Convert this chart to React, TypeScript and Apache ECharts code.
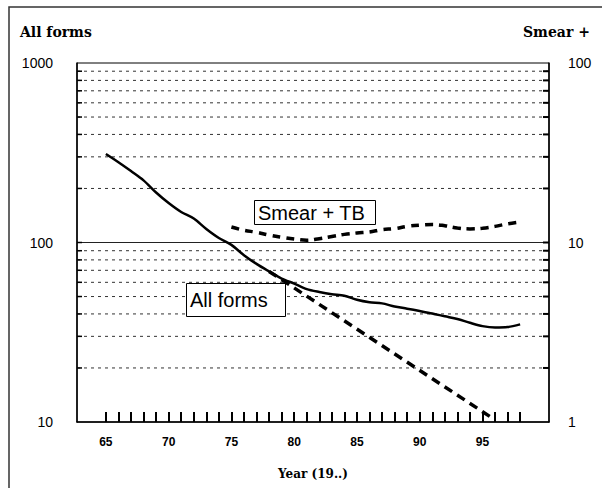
import React, { useEffect, useRef } from "react";
import * as echarts from "echarts";

// ---- data ----
const years = [65, 66, 67, 68, 69, 70, 71, 72, 73, 74, 75, 76, 77, 78, 79, 80, 81, 82, 83, 84, 85, 86, 87, 88, 89, 90, 91, 92, 93, 94, 95, 96, 97, 98];
const allForms = [311, 280, 250, 222, 190, 166, 148, 136, 119, 106, 97, 85, 76, 69, 63, 59, 55, 53, 51.5, 50.5, 48, 46.5, 45.8, 44, 42.8, 41.5, 40.2, 38.8, 37.5, 35.7, 34.2, 33.6, 33.8, 35];
const projectionYears = [78, 95.8];
const projection = [69, 10.5];
const smearYears = [75, 76, 77, 78, 79, 80, 81, 82, 83, 84, 85, 86, 87, 88, 89, 90, 91, 92, 93, 94, 95, 96, 97, 98];
const smearTB = [12.2, 11.7, 11.4, 11.0, 10.7, 10.45, 10.3, 10.5, 10.8, 11.1, 11.3, 11.45, 11.8, 11.95, 12.3, 12.5, 12.6, 12.4, 12.05, 11.9, 12.0, 12.3, 12.7, 13.0];
const gridValues = [20, 30, 40, 50, 60, 70, 80, 90, 100, 200, 300, 400, 500, 600, 700, 800, 900];
const xLabelValues = [65, 70, 75, 80, 85, 90, 95];
const xTickValues = [65, 66, 67, 68, 69, 70, 71, 72, 73, 74, 75, 76, 77, 78, 79, 80, 81, 82, 83, 84, 85, 86, 87, 88, 89, 90, 91, 92, 93, 94, 95, 96, 97, 98];
const xMin = 62.7;
const xMax = 100.3;

const SANS = '"Liberation Sans", Arial, sans-serif';
const SERIF = '"DejaVu Serif", serif';

export default function App() {
  const ref = useRef<HTMLDivElement>(null);
  useEffect(() => {
    if (!ref.current) return;
    const chart = echarts.init(ref.current, undefined, { renderer: "svg" });
    const option: any = {
      animation: false,
      backgroundColor: "#fff",
      grid: { left: 77, right: 53, top: 63, bottom: 66, show: true, borderColor: "#000", borderWidth: 1 },
      xAxis: {
        type: "value",
        min: xMin,
        max: xMax,
        axisLine: { show: true, lineStyle: { color: "#000", width: 1.5 } },
        axisTick: { show: true, inside: true, length: 10, customValues: xTickValues, lineStyle: { color: "#000", width: 2 } },
        axisLabel: { customValues: xLabelValues, margin: 14, color: "#000", fontFamily: SANS, fontWeight: "bold", fontSize: 12 },
        splitLine: { show: false },
      },
      yAxis: [
        {
          type: "log",
          logBase: 10,
          min: 10,
          max: 1000,
          position: "left",
          axisLine: { show: true, lineStyle: { color: "#000", width: 1.5 } },
          axisTick: { show: false },
          axisLabel: { margin: 24, color: "#000", fontFamily: SANS, fontSize: 14, formatter: (v: number) => String(v) },
          splitLine: { show: false },
        },
        {
          type: "log",
          logBase: 10,
          min: 1,
          max: 100,
          position: "right",
          axisLine: { show: true, lineStyle: { color: "#000", width: 1.5 } },
          axisTick: { show: false },
          axisLabel: { margin: 19, color: "#000", fontFamily: SANS, fontSize: 14, formatter: (v: number) => String(v) },
          splitLine: { show: false },
        },
      ],
      series: [
        {
          type: "custom",
          z: 1,
          silent: true,
          yAxisIndex: 0,
          data: gridValues.map((v) => [xMin, v]),
          renderItem: (params: any, api: any) => {
            const v = api.value(1);
            const cs = params.coordSys;
            const y = api.coord([api.value(0), v])[1];
            const x0 = cs.x;
            const x1 = cs.x + cs.width;
            const solid = v === 100;
            return {
              type: "group",
              children: [
                {
                  type: "line",
                  shape: { x1: x0, y1: y, x2: x1, y2: y },
                  style: solid
                    ? { stroke: "#222", lineWidth: 1 }
                    : { stroke: "#333", lineWidth: 1, lineDash: [3, 4] },
                },
                { type: "line", shape: { x1: x0, y1: y, x2: x0 + 5, y2: y }, style: { stroke: "#000", lineWidth: 1.5 } },
                { type: "line", shape: { x1: x1 - 6, y1: y, x2: x1, y2: y }, style: { stroke: "#000", lineWidth: 2 } },
              ],
            };
          },
        },
        {
          name: "All forms",
          type: "line",
          yAxisIndex: 0,
          z: 4,
          smooth: 0.3,
          symbol: "none",
          data: years.map((y, i) => [y, allForms[i]]),
          lineStyle: { color: "#000", width: 2.5 },
        },
        {
          name: "Projection",
          type: "line",
          yAxisIndex: 0,
          z: 4,
          symbol: "none",
          data: projectionYears.map((y, i) => [y, projection[i]]),
          lineStyle: { color: "#000", width: 3.5, type: [9, 6] },
        },
        {
          name: "Smear + TB",
          type: "line",
          yAxisIndex: 1,
          z: 4,
          smooth: 0.4,
          symbol: "none",
          data: smearYears.map((y, i) => [y, smearTB[i]]),
          lineStyle: { color: "#000", width: 3.5, type: [8, 6] },
        },
      ],
      graphic: [
        { type: "rect", z: 0, silent: true, shape: { x: 9, y: 7, width: 640, height: 520 }, style: { fill: "none", stroke: "#333", lineWidth: 1.5 } },
        { type: "text", x: 20, y: 32, style: { text: "All forms", font: `bold 14px ${SERIF}`, fill: "#000", textVerticalAlign: "middle" } },
        { type: "text", x: 523, y: 32, style: { text: "Smear +", font: `bold 14px ${SERIF}`, fill: "#000", textVerticalAlign: "middle" } },
        { type: "text", x: 313, y: 474, style: { text: "Year (19..)", font: `bold 12px ${SERIF}`, fill: "#000", textAlign: "center", textVerticalAlign: "middle" } },
        { type: "rect", z: 2, shape: { x: 254.5, y: 200.5, width: 121, height: 24 }, style: { fill: "#fff", stroke: "#000", lineWidth: 1 } },
        { type: "text", z: 3, x: 258, y: 213, style: { text: "Smear + TB", font: `20px ${SANS}`, fill: "#000", textVerticalAlign: "middle" } },
        { type: "rect", z: 2, shape: { x: 186.5, y: 283.5, width: 99, height: 33 }, style: { fill: "#fff", stroke: "#000", lineWidth: 1 } },
        { type: "text", z: 3, x: 190, y: 300, style: { text: "All forms", font: `20px ${SANS}`, fill: "#000", textVerticalAlign: "middle" } },
      ],
    };
    chart.setOption(option);
    return () => chart.dispose();
  }, []);
  return <div ref={ref} style={{ position: "fixed", left: 0, top: 0, width: 602, height: 488 }} />;
}
